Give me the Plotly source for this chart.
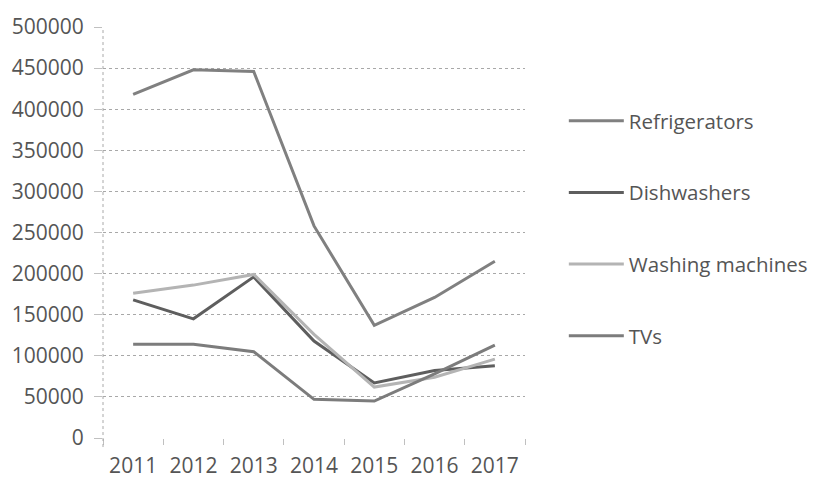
import plotly.graph_objects as go

years = ["2011", "2012", "2013", "2014", "2015", "2016", "2017"]
refrigerators = [418000, 448000, 446000, 258000, 137000, 171000, 215000]
dishwashers = [168000, 145000, 196000, 118000, 67000, 82000, 88000]
washing_machines = [176000, 186000, 199000, 126000, 62000, 74000, 96000]
tvs = [114000, 114000, 105000, 47000, 45000, 78000, 113000]

series = [
    ("Refrigerators", refrigerators, "#808080"),
    ("Dishwashers", dishwashers, "#5e5e5e"),
    ("Washing machines", washing_machines, "#b4b4b4"),
    ("TVs", tvs, "#7c7c7c"),
]

font_family = "Open Sans, Liberation Sans, sans-serif"
text_color = "#555555"

fig = go.Figure()
for i, (name, vals, col) in enumerate(series):
    fig.add_trace(go.Scatter(
        x=years, y=vals, name=name, mode="lines",
        line=dict(color=col, width=3),
        legendgroup=f"g{i}",
    ))

fig.update_layout(
    width=825, height=491,
    margin=dict(l=100, r=294, t=15, b=48),
    paper_bgcolor="white", plot_bgcolor="white",
    font=dict(family=font_family, color=text_color, size=21),
    showlegend=True,
    legend=dict(
        x=1.092, y=0.82, xanchor="left", yanchor="top",
        traceorder="grouped", tracegroupgap=42,
        itemwidth=55,
        font=dict(size=20.5, color=text_color),
        bgcolor="rgba(0,0,0,0)",
    ),
)

fig.update_xaxes(
    type="category", range=[-0.5, 6.5],
    showgrid=False, zeroline=False, showline=False,
    ticks="outside", tickson="boundaries", ticklen=6, tickcolor="#c0c0c0",
    ticklabelstandoff=13,
    tickfont=dict(size=21, color=text_color),
)
fig.update_yaxes(
    range=[0, 500000], dtick=50000, tick0=0,
    showgrid=True, gridcolor="#a8a8a8", griddash="dot", gridwidth=1,
    zeroline=False, showline=False,
    ticks="outside", ticklen=8, tickcolor="#c0c0c0",
    ticklabelstandoff=6,
    tickformat="d",
    tickfont=dict(size=21, color=text_color),
)

# dotted vertical axis line at the left edge of the plot area
fig.add_shape(type="line", xref="paper", yref="paper",
              x0=0, x1=0, y0=-0.022, y1=1,
              line=dict(color="#a8a8a8", width=1, dash="dot"))

fig.write_html("out.html")
